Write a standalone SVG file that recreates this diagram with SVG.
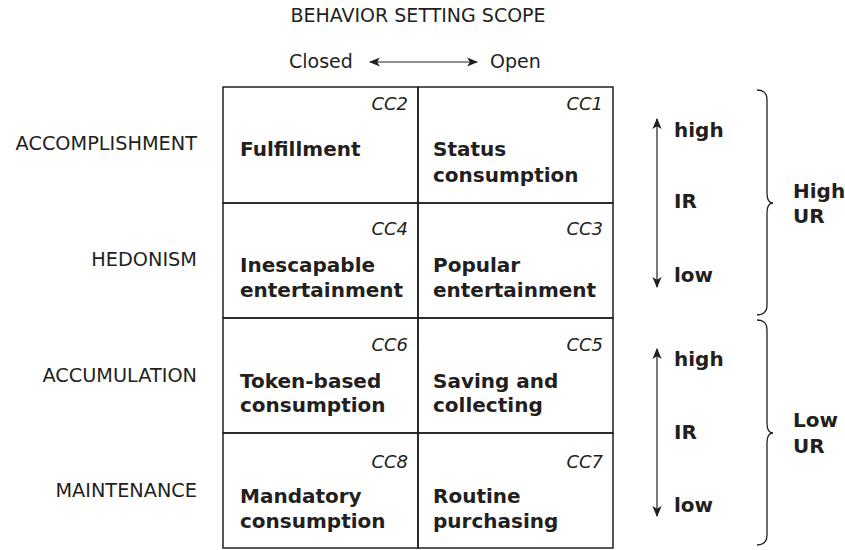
<svg xmlns="http://www.w3.org/2000/svg" width="845" height="550" viewBox="0 0 845 550">
<defs>
<marker id="ah" viewBox="0 0 10 10" refX="9" refY="5" markerWidth="11" markerHeight="11" markerUnits="userSpaceOnUse" orient="auto-start-reverse">
<path d="M0,0.8 L10,5 L0,9.2 L2.5,5 Z" fill="#231f20"/>
</marker>
<style>
text{fill:#231f20;font-family:"DejaVu Sans","Liberation Sans",sans-serif}
.lab{font-size:19px}
.row{font-size:19.3px;text-anchor:end}
.cc{font-size:18px;font-style:italic;text-anchor:end}
.t{font-size:20px;font-weight:bold}
.cell{fill:none;stroke:#231f20;stroke-width:1.5}
.ln{fill:none;stroke:#231f20;stroke-width:1.2}
.br{fill:none;stroke:#231f20;stroke-width:1.3}
</style>
</defs>
<rect width="845" height="550" fill="#fff"/>
<g id="header">
<text class="lab" x="418" y="22" text-anchor="middle">BEHAVIOR SETTING SCOPE</text>
<text class="lab" x="289" y="68">Closed</text>
<text class="lab" x="490" y="68">Open</text>
</g>
<g id="rowlabels">
<text class="row" x="197" y="150">ACCOMPLISHMENT</text>
<text class="row" x="197" y="266">HEDONISM</text>
<text class="row" x="197" y="382">ACCUMULATION</text>
<text class="row" x="197" y="497">MAINTENANCE</text>
</g>
<g id="cc2"><rect class="cell" x="223" y="87" width="195" height="116"/><text class="cc" x="408" y="110">CC2</text><text class="t" x="240" y="156">Fulfillment</text></g>
<g id="cc1"><rect class="cell" x="418" y="87" width="195" height="116"/><text class="cc" x="603" y="110">CC1</text><text class="t" x="433" y="156">Status</text><text class="t" x="433" y="182">consumption</text></g>
<g id="cc4"><rect class="cell" x="223" y="203" width="195" height="115"/><text class="cc" x="408" y="235">CC4</text><text class="t" x="240" y="272">Inescapable</text><text class="t" x="240" y="297">entertainment</text></g>
<g id="cc3"><rect class="cell" x="418" y="203" width="195" height="115"/><text class="cc" x="603" y="235">CC3</text><text class="t" x="433" y="272">Popular</text><text class="t" x="433" y="297">entertainment</text></g>
<g id="cc6"><rect class="cell" x="223" y="318" width="195" height="115"/><text class="cc" x="408" y="351">CC6</text><text class="t" x="240" y="388">Token-based</text><text class="t" x="240" y="412">consumption</text></g>
<g id="cc5"><rect class="cell" x="418" y="318" width="195" height="115"/><text class="cc" x="603" y="351">CC5</text><text class="t" x="433" y="388">Saving and</text><text class="t" x="433" y="412">collecting</text></g>
<g id="cc8"><rect class="cell" x="223" y="433" width="195" height="115"/><text class="cc" x="408" y="468">CC8</text><text class="t" x="240" y="503">Mandatory</text><text class="t" x="240" y="528">consumption</text></g>
<g id="cc7"><rect class="cell" x="418" y="433" width="195" height="115"/><text class="cc" x="603" y="468">CC7</text><text class="t" x="433" y="503">Routine</text><text class="t" x="433" y="528">purchasing</text></g>
<g id="ir-high">
<text class="t" x="674" y="137">high</text>
<text class="t" x="674" y="208">IR</text>
<text class="t" x="674" y="282">low</text>
<text class="t" x="793" y="198">High</text>
<text class="t" x="793" y="223">UR</text>
</g>
<g id="ir-low">
<text class="t" x="674" y="366">high</text>
<text class="t" x="674" y="439">IR</text>
<text class="t" x="674" y="512">low</text>
<text class="t" x="793" y="427">Low</text>
<text class="t" x="793" y="453">UR</text>
</g>
<g id="connectors">
<line class="ln" x1="370" y1="62" x2="477" y2="62" marker-start="url(#ah)" marker-end="url(#ah)"/>
<line class="ln" x1="657" y1="119" x2="657" y2="287" marker-start="url(#ah)" marker-end="url(#ah)"/>
<line class="ln" x1="657" y1="349" x2="657" y2="516" marker-start="url(#ah)" marker-end="url(#ah)"/>
<path class="br" d="M757,90 Q767,90 767,100 L767,193 Q767,203 773,203 Q767,203 767,213 L767,305 Q767,315 757,315"/>
<path class="br" d="M757,320 Q767,320 767,330 L767,423 Q767,433 773,433 Q767,433 767,443 L767,535 Q767,545 757,545"/>
</g>
</svg>
